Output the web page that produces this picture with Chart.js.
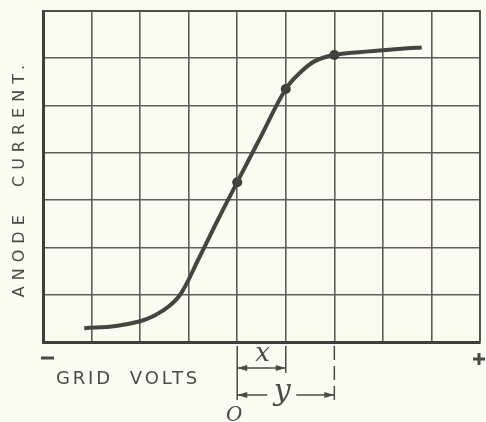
<!DOCTYPE html>
<html>
<head>
<meta charset="utf-8">
<script src="https://cdn.jsdelivr.net/npm/chart.js@4"></script>
<style>
  html, body { margin: 0; padding: 0; background: #fbfcf1; }
  #wrap { width: 486px; height: 422px; }
</style>
</head>
<body>
<div id="wrap"><canvas id="c"></canvas></div>
<script>
// grid volts (columns) vs anode current (rows)
const gridVolts = [-3.15, -2.5, -2.0, -1.7, -1.4, -1.15, -0.8, -0.4, 0, 0.5, 1, 1.3, 1.6, 2, 2.5, 3, 3.5, 3.8];
const anodeCurrent = [0.29, 0.34, 0.44, 0.56, 0.76, 1.04, 1.75, 2.58, 3.38, 4.37, 5.35, 5.7, 5.94, 6.07, 6.13, 6.17, 6.21, 6.23];
// marked points on the curve
const markVolts = [0, 1, 2];
const markCurrent = [3.38, 5.35, 6.07];
// dimension marks below the axis
const dimX = 1;
const dimY = 2;

const ink = '#4a4a46';

const frame = {
  id: 'frame',
  beforeDatasetsDraw(chart) {
    const a = chart.chartArea;
    const ctx = chart.ctx;
    ctx.save();
    ctx.strokeStyle = '#4e4e4a';
    ctx.lineWidth = 1.8;
    ctx.beginPath();
    ctx.moveTo(a.left, a.top); ctx.lineTo(a.right, a.top); ctx.lineTo(a.right, a.bottom);
    ctx.stroke();
    ctx.restore();
  }
};

const annotations = {
  id: 'annotations',
  afterDraw(chart) {
    const ctx = chart.ctx;
    const xs = chart.scales.x;
    const area = chart.chartArea;
    const x0 = xs.getPixelForValue(0);
    const x1 = xs.getPixelForValue(dimX);
    const x2 = xs.getPixelForValue(dimY);
    const b = area.bottom;
    ctx.save();
    ctx.strokeStyle = ink;
    ctx.fillStyle = ink;
    ctx.lineWidth = 1.5;

    // extension lines
    ctx.beginPath();
    ctx.moveTo(x0, b + 4); ctx.lineTo(x0, b + 58);
    ctx.moveTo(x1, b + 4); ctx.lineTo(x1, b + 31);
    ctx.stroke();
    ctx.setLineDash([14, 6]);
    ctx.beginPath();
    ctx.moveTo(x2, b + 4); ctx.lineTo(x2, b + 58);
    ctx.stroke();
    ctx.setLineDash([]);

    function arrowHead(x, y, dir) {
      ctx.beginPath();
      ctx.moveTo(x, y);
      ctx.lineTo(x + dir * 10, y - 3);
      ctx.lineTo(x + dir * 10, y + 3);
      ctx.closePath();
      ctx.fill();
    }
    // x dimension
    const ya = b + 26;
    ctx.beginPath();
    ctx.moveTo(x0, ya); ctx.lineTo(x1, ya);
    ctx.stroke();
    arrowHead(x0, ya, 1);
    arrowHead(x1, ya, -1);
    // y dimension
    const yb = b + 53;
    ctx.beginPath();
    ctx.moveTo(x0, yb); ctx.lineTo(x0 + 30, yb);
    ctx.moveTo(x0 + 59, yb); ctx.lineTo(x2, yb);
    ctx.stroke();
    arrowHead(x0, yb, 1);
    arrowHead(x2, yb, -1);

    // minus and plus signs
    ctx.lineWidth = 3;
    ctx.beginPath();
    ctx.moveTo(area.left - 2, b + 16); ctx.lineTo(area.left + 11, b + 16);
    ctx.moveTo(area.right - 7, b + 17); ctx.lineTo(area.right + 5, b + 17);
    ctx.moveTo(area.right - 1, b + 11); ctx.lineTo(area.right - 1, b + 23);
    ctx.stroke();

    ctx.textAlign = 'center';
    ctx.textBaseline = 'middle';
    ctx.font = 'italic 26px "DejaVu Serif"';
    ctx.fillText('x', (x0 + x1) / 2 + 1, b + 12);
    ctx.font = 'italic 30px "DejaVu Serif"';
    ctx.fillText('y', x0 + 45, b + 50);
    ctx.font = 'italic 20px "DejaVu Serif"';
    ctx.fillText('O', x0 - 3, b + 74);

    ctx.font = '18px "DejaVu Sans"';
    ctx.letterSpacing = '2.8px';
    ctx.textAlign = 'left';
    ctx.fillText('GRID  VOLTS', 56, b + 37);

    ctx.translate(20, 178);
    ctx.rotate(-Math.PI / 2);
    ctx.font = '16px "DejaVu Sans"';
    ctx.letterSpacing = '6px';
    ctx.textAlign = 'center';
    ctx.fillText('ANODE  CURRENT.', 0, 0);
    ctx.restore();
  }
};

new Chart(document.getElementById('c'), {
  type: 'line',
  data: {
    datasets: [{
      data: gridVolts.map((v, i) => ({ x: v, y: anodeCurrent[i] })),
      borderColor: '#444440',
      borderWidth: 4,
      pointRadius: 0,
      tension: 0.4,
      fill: false
    }, {
      data: markVolts.map((v, i) => ({ x: v, y: markCurrent[i] })),
      showLine: false,
      pointRadius: 5,
      pointBackgroundColor: '#3c3c38',
      pointBorderWidth: 0
    }]
  },
  options: {
    responsive: true,
    maintainAspectRatio: false,
    animation: false,
    layout: { padding: { left: 43, right: 6, top: 11, bottom: 80 } },
    plugins: { legend: { display: false }, tooltip: { enabled: false } },
    scales: {
      x: {
        type: 'linear', min: -4, max: 5,
        ticks: { display: false, stepSize: 1 },
        grid: { color: '#5e5e58', lineWidth: 1.6, drawTicks: false, tickLength: 0 },
        border: { color: '#3e3e3a', width: 3 }
      },
      y: {
        min: 0, max: 7,
        ticks: { display: false, stepSize: 1 },
        grid: { color: '#5e5e58', lineWidth: 1.6, drawTicks: false, tickLength: 0 },
        border: { color: '#3e3e3a', width: 3 }
      }
    }
  },
  plugins: [frame, annotations]
});
</script>
</body>
</html>
